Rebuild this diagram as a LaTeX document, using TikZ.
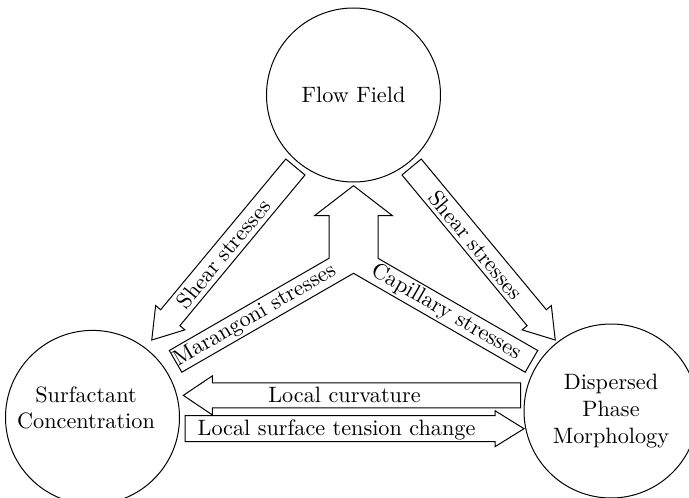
\documentclass[tikz,border=0pt]{standalone}
\usetikzlibrary{calc}
\newcommand\blockarrow[5]{%
  \draw[outline, shift={#1}, rotate=#2]
    (0,-#4) -- (#3-29,-#4) -- (#3-29,-#5) -- (#3,0) -- (#3-29,#5) -- (#3-29,#4) -- (0,#4) -- cycle;}
\begin{document}
\begin{tikzpicture}[x=0.45pt, y=-0.45pt,
  bubble/.style={circle, draw, line width=0.45pt, minimum size=78.3pt, inner sep=0pt, align=center},
  outline/.style={draw, line width=0.45pt, line join=miter},
  lbl/.style={inner sep=0pt, align=center}]
\useasboundingbox (0,0) rectangle (689,498);

% circles
\node[bubble] (flow) at (353.5,95) {Flow Field};
\node[bubble] (surf) at (92.5,417.4) {};
\node[lbl] (surftext) at (86,408) {Surfactant\\Concentration};
\node[bubble] (disp) at (611,411) {Dispersed\\Phase\\Morphology};

% shear stress arrows
\blockarrow{(295.4,167)}{230.3}{224.9}{12.5}{19}
\node[lbl, rotate=50.3] (shearL) at (223.3,253.7) {Shear stresses};
\blockarrow{(411.6,167)}{-50.3}{224.9}{12.5}{19}
\node[lbl, rotate=-50.3] (shearR) at (475.7,245) {Shear stresses};

% merging arrow (Marangoni + capillary)
\draw[outline] (353.5,185.7) -- (392.5,215.7) -- (378,215.7) -- (378,258.3)
  -- (537.7,350.5) -- (525.2,372.2) -- (353.5,273.3) -- (181.8,372.2)
  -- (169.3,350.5) -- (329,258.3) -- (329,215.7) -- (314.5,215.7) -- cycle;
\node[lbl, rotate=30] (maran) at (255,315.6) {Marangoni stresses};
\node[lbl, rotate=-30] (capil) at (446,312.3) {Capillary stresses};

% horizontal arrows
\blockarrow{(520.7,395.4)}{180}{337.4}{12.5}{19.5}
\node[lbl] (curv) at (344.5,395.4) {Local curvature};
\blockarrow{(185,428.7)}{0}{339}{13}{18}
\node[lbl] (tension) at (336.5,429.5) {Local surface tension change};
\end{tikzpicture}
\end{document}
